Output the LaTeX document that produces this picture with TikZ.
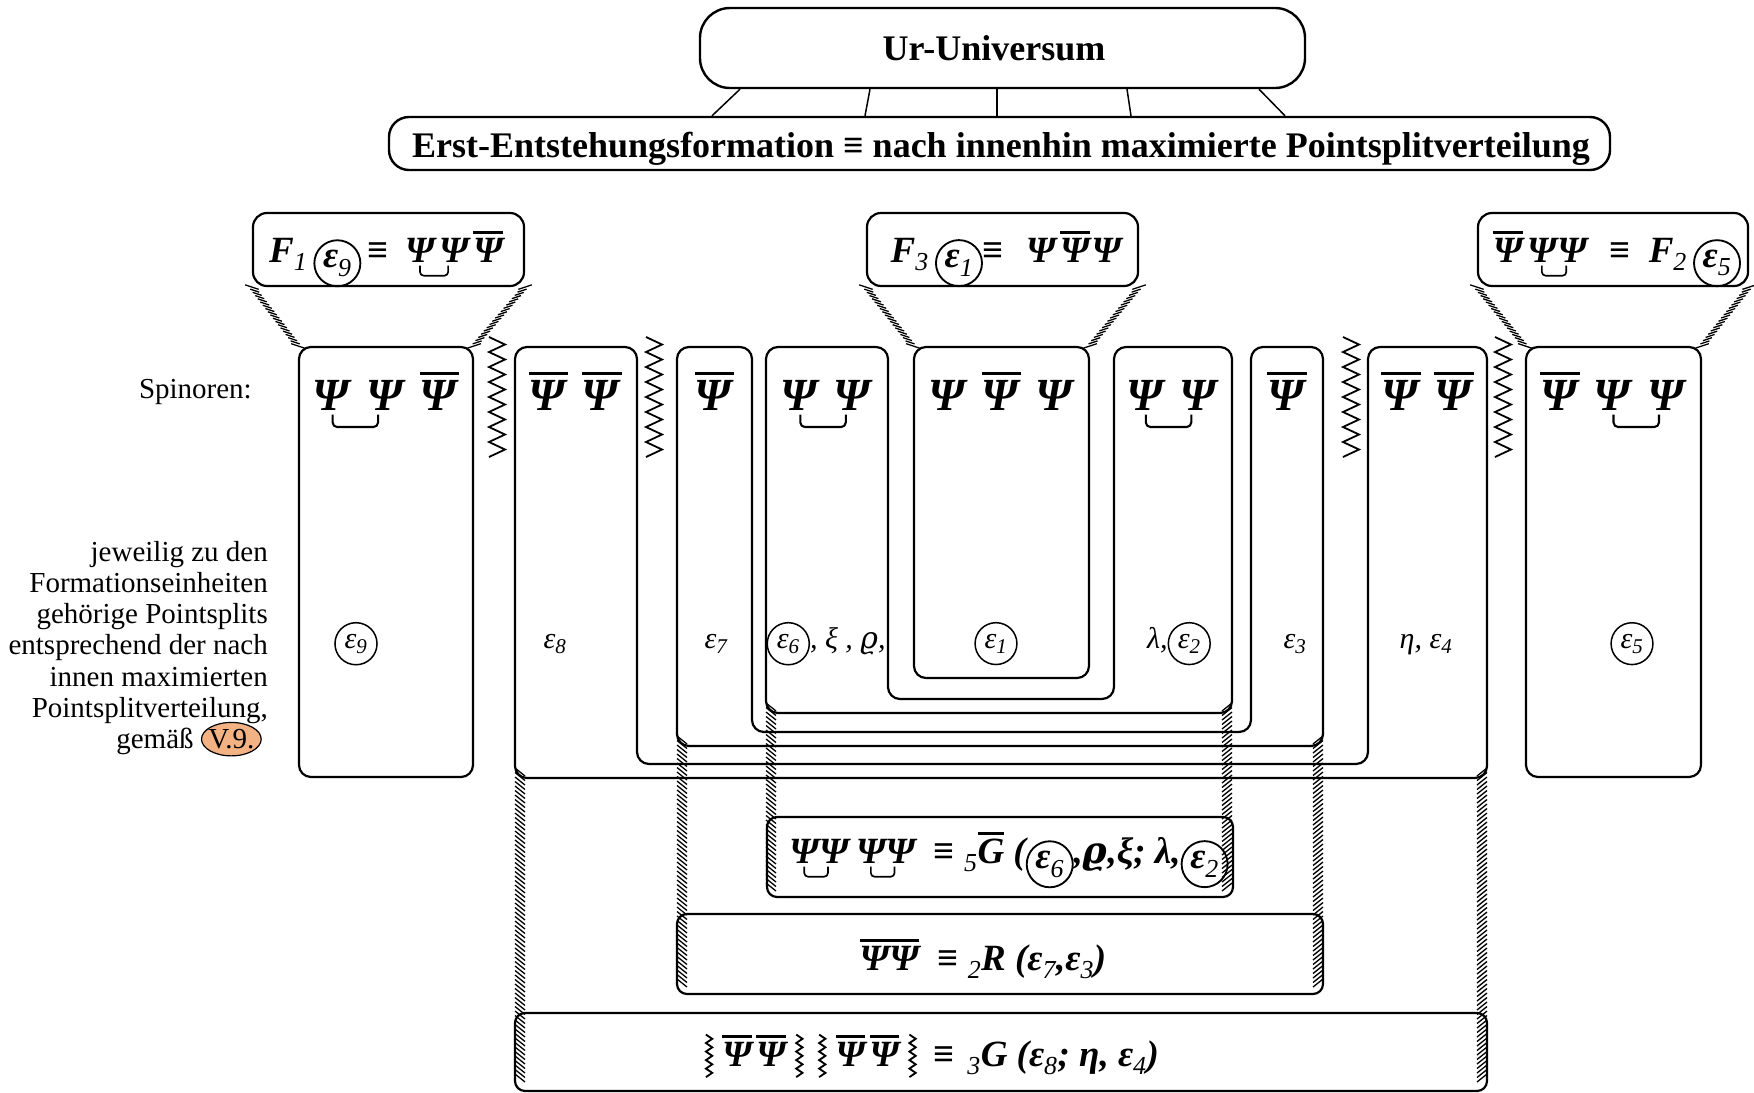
\documentclass[tikz,border=0pt]{standalone}
\usepackage{fontspec}
\setmainfont{Liberation Serif}
\newfontfamily\dvs{DejaVu Serif}
\usetikzlibrary{shapes.geometric,calc}
\definecolor{peach}{RGB}{242,178,132}
\newcommand\PsiI{\textbf{\textit{Ψ}}}
\newcommand\PsiB{\mbox{\vbox{\hrule height 0.07em\kern0.1em\hbox{\PsiI}}}}
\newcommand\GB{\mbox{\vbox{\hrule height 0.07em\kern0.1em\hbox{\textbf{\textit{G}}}}}}
\newcommand\sbm[1]{\textsubscript{\mdseries #1}}
\newlength\tiew
\newcommand\Tie[1]{\setbox0\hbox{\PsiI}\tiew=\dimexpr 0.8\wd0+#1\relax
  \makebox[0pt][l]{\kern-0.5\wd0\tikz[overlay,baseline=0pt,x=1pt,y=1pt]\draw[line width=0.045em,rounded corners=0.1em] (0,-0.1em) -- (0,-0.37em) -- (\tiew,-0.37em) -- (\tiew,-0.1em);}\kern#1\relax}
\newcommand\Circ[2][0.03em]{\tikz[baseline=(cx.base)]\node[circle,draw,line width=0.05em,inner sep=#1,minimum size=0pt,anchor=center](cx){#2};}
\newcommand\CircL[1]{\raisebox{-0.15em}{\Circ[0.07em]{#1}}}
\newcommand\ZZ{\tikz[baseline=0pt,x=1pt,y=1pt]\draw[line width=0.05em,line join=miter] (0,-0.3em) -- (0.17em,-0.185em) -- (0,-0.07em) -- (0.17em,0.045em) -- (0,0.16em) -- (0.17em,0.275em) -- (0,0.39em) -- (0.17em,0.505em) -- (0,0.62em) -- (0.17em,0.735em) -- (0,0.85em);}
\newcommand\zzcol[1]{\draw[zzst] ({#1-8},337) \foreach \k in {1,...,8}{ -- ({#1+8},{337+15*\k-7.5}) -- ({#1-8},{337+15*\k})};}
\newcommand\vbandL[3]{\foreach \i in {0,...,#3}{\draw[hst] (#1,{#2+4.5*\i}) -- ++(10,8);}}
\newcommand\vbandR[3]{\foreach \i in {0,...,#3}{\draw[hst] (#1,{#2+4.5*\i}) -- ++(-10,8);}}
\newcommand\hconn[4]{\foreach \t in {0.06,0.115,...,0.95}{\draw[hst] ($(#1)!\t!(#2)+({-(#3)},{-(#4)})$) -- ++({2*(#3)},{2*(#4)});}
  \draw[hst] ($(#1)+({-1.5*(#3)},{-1.5*(#4)})$) -- ++({3*(#3)},{3*(#4)});
  \draw[hst] ($(#2)+({-1.5*(#3)},{-1.5*(#4)})$) -- ++({3*(#3)},{3*(#4)});}
\tikzset{
  colbox/.style={draw,line width=2.2bp,rounded corners=12bp},
  boxnode/.style={draw,line width=2.2bp,rounded corners=12bp,inner sep=0pt},
  hst/.style={line width=1.3bp},
  zzst/.style={line width=1.8bp,line join=miter},
  txt/.style={anchor=base,inner sep=0pt},
  bigpsi/.style={txt,font=\fontsize{46bp}{50bp}\selectfont},
  lab/.style={txt,font=\fontsize{30bp}{34bp}\selectfont\itshape},
  formula/.style={txt,font=\fontsize{37bp}{40bp}\selectfont\bfseries\itshape},
  ttl/.style={txt,font=\fontsize{36bp}{40bp}\selectfont\bfseries},
  plain/.style={inner sep=0pt,font=\fontsize{29bp}{31.2bp}\selectfont},
}
\begin{document}
\begin{tikzpicture}[x=1bp,y=-1bp,line join=round]
\useasboundingbox (0,0) rectangle (1754,1092);
% top boxes
\node[boxnode,line width=2.4bp,rounded corners=30bp,minimum width=605bp,minimum height=80bp] (ur) at (1002.5,48) {};
\node[ttl] (urt) at (994,60) {Ur-Universum};
\node[boxnode,line width=2.4bp,rounded corners=20bp,minimum width=1221bp,minimum height=53bp] (erst) at (999.5,143.5) {};
\node[ttl] (erstt) at (1001,157) {Erst-Entstehungsformation ≡ nach innenhin maximierte Pointsplitverteilung};
\foreach \a/\b in {740/712,870/865,997/997,1127/1131,1259/1285}
  \draw[line width=1.5bp] (ur.south -| \a,0) -- (erst.north -| \b,0);
% F boxes
\node[boxnode,rounded corners=14bp,minimum width=271bp,minimum height=73bp] (f1) at (388.5,249.5) {};
\node[formula] (f1t) at (386,262) {F\sbm{1}\,\CircL{ε\sbm{9}}\,{\upshape≡}\hspace{0.45em}\PsiI\Tie{0.12em}\PsiI\hspace{0.12em}\PsiB};
\node[boxnode,rounded corners=14bp,minimum width=271bp,minimum height=73bp] (f3) at (1002.5,249.5) {};
\node[formula] (f3t) at (1006,262) {F\sbm{3}\,\CircL{ε\sbm{1}}{\upshape≡}\hspace{0.6em}\PsiI\hspace{0.12em}\PsiB\hspace{0.05em}\PsiI};
\node[boxnode,rounded corners=14bp,minimum width=270bp,minimum height=73bp] (f2) at (1613,249.5) {};
\node[formula] (f2t) at (1617,262) {\PsiB\hspace{0.12em}\PsiI\Tie{0.02em}\PsiI\hspace{0.6em}{\upshape≡}\hspace{0.5em}F\sbm{2}\,\CircL{ε\sbm{5}}};
% columns
\node[boxnode,minimum width=174bp,minimum height=430bp] (colA) at (386,562) {};
\draw[colbox] (515,347) -- (637,347) -- (637,764) -- (1368,764) -- (1368,347) -- (1487,347) -- (1487,778) -- (515,778) -- cycle;
\draw[colbox] (677,347) -- (752,347) -- (752,732) -- (1251,732) -- (1251,347) -- (1323,347) -- (1323,746) -- (677,746) -- cycle;
\draw[colbox] (766,347) -- (888,347) -- (888,699) -- (1114,699) -- (1114,347) -- (1232,347) -- (1232,713) -- (766,713) -- cycle;
\node[boxnode,minimum width=175bp,minimum height=331bp] (colC) at (1001.5,512.5) {};
\node[boxnode,minimum width=175bp,minimum height=430bp] (colE) at (1613.5,562) {};
% hatched connectors F -> columns
\hconn{f1.south west}{colA.north west}{4.5}{1.5}
\hconn{f1.south east}{colA.north east}{4.5}{-1.5}
\hconn{f3.south west}{colC.north west}{4.5}{1.5}
\hconn{f3.south east}{colC.north east}{4.5}{-1.5}
\hconn{f2.south west}{colE.north west}{4.5}{1.5}
\hconn{f2.south east}{colE.north east}{4.5}{-1.5}
% zigzag separators
\zzcol{497} \zzcol{654} \zzcol{1351} \zzcol{1503}
% spinor rows
\node[bigpsi] (sA) at (386,410) {\PsiI\Tie{0.3em}\PsiI\hspace{0.3em}\PsiB};
\node[bigpsi] (s8) at (575,410) {\PsiB\hspace{0.3em}\PsiB};
\node[bigpsi] (s7) at (714.5,410) {\PsiB};
\node[bigpsi] (s6) at (827,410) {\PsiI\Tie{0.3em}\PsiI};
\node[bigpsi] (s1) at (1001.5,410) {\PsiI\hspace{0.3em}\PsiB\hspace{0.3em}\PsiI};
\node[bigpsi] (s2) at (1172.5,410) {\PsiI\Tie{0.3em}\PsiI};
\node[bigpsi] (s3) at (1287,410) {\PsiB};
\node[bigpsi] (s4) at (1427.5,410) {\PsiB\hspace{0.3em}\PsiB};
\node[bigpsi] (s5) at (1613.5,410) {\PsiB\hspace{0.3em}\PsiI\Tie{0.3em}\PsiI};
% pointsplit labels
\node[lab] (l9) at (356,648) {\Circ[0.14em]{ε\textsubscript{9}}};
\node[lab] (l8) at (555,648) {ε\textsubscript{8}};
\node[lab] (l7) at (716,648) {ε\textsubscript{7}};
\node[lab] (l6) at (826,648) {\Circ[0.14em]{ε\textsubscript{6}}, ξ , {\dvs ϱ},};
\node[lab] (l1) at (996,648) {\Circ[0.14em]{ε\textsubscript{1}}};
\node[lab] (l2) at (1179,648) {λ,\Circ[0.14em]{ε\textsubscript{2}}};
\node[lab] (l3) at (1295,648) {ε\textsubscript{3}};
\node[lab] (l4) at (1426,648) {η, ε\textsubscript{4}};
\node[lab] (l5) at (1632,648) {\Circ[0.14em]{ε\textsubscript{5}}};
% bottom boxes
\node[boxnode,rounded corners=10bp,minimum width=466bp,minimum height=80bp] (gbox) at (1000,857) {};
\node[formula] (gt) at (1009,863) {\PsiI\Tie{0pt}\PsiI\hspace{0.2em}\PsiI\Tie{0pt}\PsiI\hspace{0.5em}{\upshape≡}\hspace{0.25em}\sbm{5}\GB\ (\CircL{ε\sbm{6}},{\dvs ϱ},ξ; λ,\CircL{ε\sbm{2}}};
\node[boxnode,rounded corners=10bp,minimum width=646bp,minimum height=80bp] (rbox) at (1000,954) {};
\node[formula] (rt) at (983,970) {\PsiB\PsiB\hspace{0.5em}{\upshape≡}\hspace{0.25em}\sbm{2}R (ε\sbm{7},ε\sbm{3})};
\node[boxnode,rounded corners=10bp,minimum width=972bp,minimum height=78bp] (gbot) at (1001,1052) {};
\node[formula] (bt) at (932,1066) {\ZZ\hspace{0.25em}\PsiB\hspace{0.12em}\PsiB\hspace{0.25em}\ZZ\hspace{0.4em}\ZZ\hspace{0.25em}\PsiB\hspace{0.12em}\PsiB\hspace{0.25em}\ZZ\hspace{0.45em}{\upshape≡}\hspace{0.35em}\sbm{3}G (ε\sbm{8}; η, ε\sbm{4})};
% hatched bands U -> bottom boxes
\vbandL{766}{703}{40} \vbandR{1232}{703}{40}
\vbandL{677}{736}{54} \vbandR{1323}{736}{54}
\vbandL{515}{768}{68} \vbandR{1487}{768}{68}
% left texts
\node[plain,anchor=base east] (spin) at (252,398) {Spinoren:};
\node[plain,anchor=north east,align=right] (desc) at (268,541) {jeweilig zu den\\Formationseinheiten\\gehörige Pointsplits\\entsprechend der nach\\innen maximierten\\Pointsplitverteilung,\\gemäß \smash{\tikz[baseline=(v9.base)]\node[ellipse,draw,line width=1.2bp,fill=peach,inner xsep=-2bp,inner ysep=2bp] (v9) {V.9.};\kern6bp}};
\end{tikzpicture}
\end{document}
